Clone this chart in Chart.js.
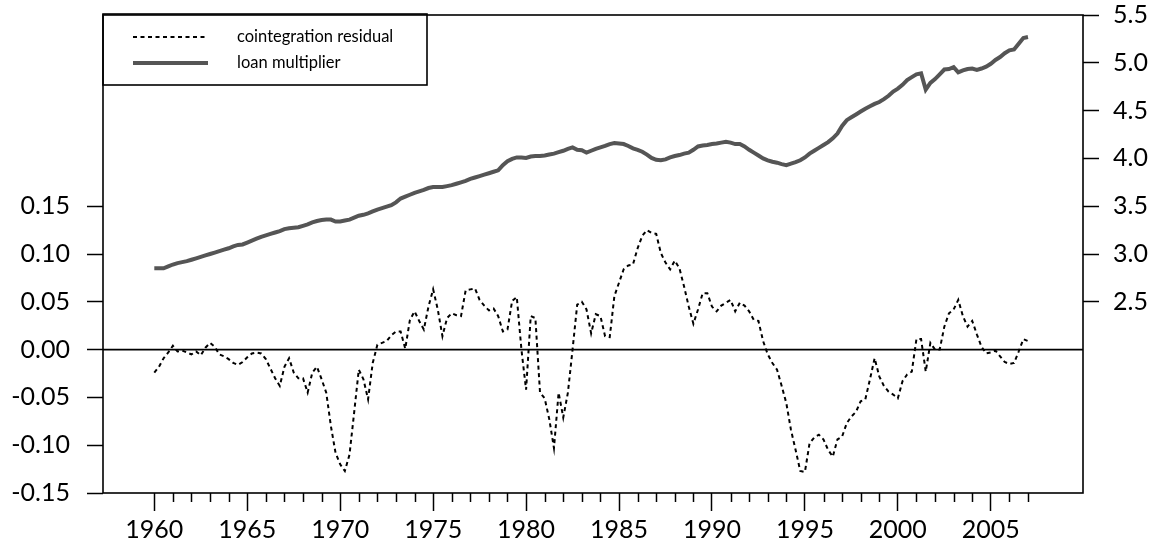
<!DOCTYPE html>
<html>
<head>
<meta charset="utf-8">
<script src="https://cdn.jsdelivr.net/npm/chart.js@4.4.1/dist/chart.umd.min.js"></script>
<style>
  html, body { margin: 0; padding: 0; background: #fff; }
  #wrap { width: 1160px; height: 550px; }
</style>
</head>
<body>
<div id="wrap"><canvas id="myChart" width="1160" height="550"></canvas></div>
<script>
// quarterly data, first quarter = 1960Q1
const startYear = 1960;

const residual = [
  -0.024, -0.018, -0.009, -0.003, 0.004, -0.002, -0.001, -0.003,
  -0.005, -0.002, -0.006, 0.002, 0.007, 0.003, -0.005, -0.007,
  -0.010, -0.014, -0.016, -0.013, -0.008, -0.004, -0.003, -0.004,
  -0.010, -0.020, -0.030, -0.038, -0.018, -0.009, -0.024, -0.030,
  -0.030, -0.045, -0.024, -0.018, -0.031, -0.045, -0.080, -0.108,
  -0.120, -0.127, -0.110, -0.066, -0.021, -0.031, -0.052, -0.014,
  0.005, 0.007, 0.009, 0.015, 0.019, 0.019, 0.001, 0.031,
  0.040, 0.030, 0.021, 0.045, 0.063, 0.042, 0.014, 0.033,
  0.038, 0.036, 0.035, 0.062, 0.063, 0.064, 0.052, 0.046,
  0.041, 0.043, 0.035, 0.019, 0.021, 0.051, 0.055, 0.000,
  -0.042, 0.035, 0.033, -0.045, -0.051, -0.073, -0.103, -0.045,
  -0.071, -0.045, 0.000, 0.047, 0.050, 0.042, 0.017, 0.037,
  0.035, 0.014, 0.013, 0.056, 0.070, 0.084, 0.088, 0.089,
  0.106, 0.119, 0.125, 0.122, 0.121, 0.101, 0.091, 0.084,
  0.093, 0.085, 0.066, 0.045, 0.027, 0.042, 0.059, 0.059,
  0.045, 0.040, 0.046, 0.049, 0.052, 0.040, 0.049, 0.046,
  0.040, 0.031, 0.030, 0.009, -0.005, -0.014, -0.021, -0.038,
  -0.056, -0.084, -0.105, -0.127, -0.128, -0.098, -0.092, -0.089,
  -0.094, -0.105, -0.112, -0.094, -0.091, -0.077, -0.070, -0.065,
  -0.054, -0.052, -0.031, -0.009, -0.028, -0.038, -0.044, -0.047,
  -0.051, -0.033, -0.026, -0.023, 0.011, 0.011, -0.023, 0.007,
  0.000, 0.000, 0.024, 0.038, 0.042, 0.052, 0.035, 0.024,
  0.030, 0.016, 0.003, -0.004, -0.003, -0.001, -0.007, -0.013,
  -0.015, -0.014, -0.002, 0.011, 0.009
];

const loanMult = [
  2.85, 2.85, 2.85, 2.87, 2.89, 2.905, 2.915, 2.925,
  2.94, 2.955, 2.97, 2.985, 3.00, 3.015, 3.03, 3.045,
  3.06, 3.08, 3.095, 3.10, 3.12, 3.14, 3.16, 3.18,
  3.195, 3.21, 3.225, 3.24, 3.26, 3.27, 3.275, 3.28,
  3.295, 3.31, 3.33, 3.345, 3.355, 3.36, 3.36, 3.34,
  3.34, 3.35, 3.36, 3.38, 3.40, 3.41, 3.425, 3.445,
  3.465, 3.48, 3.495, 3.51, 3.54, 3.58, 3.60, 3.62,
  3.64, 3.655, 3.67, 3.69, 3.70, 3.70, 3.70, 3.71,
  3.72, 3.735, 3.75, 3.765, 3.785, 3.80, 3.815, 3.83,
  3.845, 3.86, 3.875, 3.93, 3.97, 3.995, 4.01, 4.01,
  4.005, 4.02, 4.025, 4.025, 4.03, 4.04, 4.05, 4.065,
  4.08, 4.10, 4.115, 4.09, 4.085, 4.06, 4.08, 4.10,
  4.115, 4.13, 4.15, 4.16, 4.155, 4.15, 4.13, 4.105,
  4.09, 4.07, 4.04, 4.005, 3.985, 3.98, 3.99, 4.01,
  4.025, 4.035, 4.05, 4.06, 4.09, 4.125, 4.135, 4.14,
  4.15, 4.155, 4.165, 4.175, 4.165, 4.15, 4.15, 4.125,
  4.09, 4.06, 4.03, 4.00, 3.98, 3.965, 3.955, 3.94,
  3.93, 3.945, 3.96, 3.98, 4.01, 4.05, 4.08, 4.11,
  4.14, 4.17, 4.21, 4.26, 4.34, 4.40, 4.43, 4.46,
  4.49, 4.52, 4.545, 4.57, 4.59, 4.62, 4.655, 4.70,
  4.73, 4.77, 4.82, 4.85, 4.88, 4.89, 4.72, 4.79,
  4.83, 4.88, 4.93, 4.935, 4.955, 4.90, 4.92, 4.935,
  4.94, 4.925, 4.94, 4.96, 4.99, 5.03, 5.06, 5.10,
  5.13, 5.14, 5.20, 5.26, 5.27
];

const seriesNames = ['cointegration residual', 'loan multiplier'];
const leftTicks = [-0.15, -0.10, -0.05, 0.00, 0.05, 0.10, 0.15];
const rightTicks = [2.5, 3.0, 3.5, 4.0, 4.5, 5.0, 5.5];
const yearTicks = [1960, 1965, 1970, 1975, 1980, 1985, 1990, 1995, 2000, 2005];
const minorYears = [];
for (let y = 1961; y <= 2007; y++) if (y % 5 !== 0) minorYears.push(y);

const quarters = residual.map((_, i) => startYear + i / 4);

const FONT = 'Lato, "Open Sans", sans-serif';

// box, zero line, minor year ticks and the legend
const framePlugin = {
  id: 'frame',
  afterDraw(chart) {
    const ctx = chart.ctx;
    const a = chart.chartArea;
    const x = chart.scales.x;
    const yl = chart.scales.y;
    ctx.save();
    ctx.strokeStyle = '#000';
    ctx.lineWidth = 1.6;
    ctx.strokeRect(a.left, a.top, a.right - a.left, a.bottom - a.top);

    // zero line
    const y0 = yl.getPixelForValue(0);
    ctx.beginPath();
    ctx.moveTo(a.left, y0);
    ctx.lineTo(a.right, y0);
    ctx.stroke();

    // minor ticks
    ctx.lineWidth = 1.5;
    minorYears.forEach(yr => {
      const px = Math.round(x.getPixelForValue(yr)) + 0.5;
      ctx.beginPath();
      ctx.moveTo(px, a.bottom);
      ctx.lineTo(px, a.bottom + 9);
      ctx.stroke();
    });

    // legend
    const lx = a.left, ly = a.top - 1;
    ctx.lineWidth = 1.6;
    ctx.strokeRect(lx, ly, 324, 71);
    const ds = chart.data.datasets;
    ds.forEach((d, i) => {
      const yy = ly + 23 + i * 26;
      ctx.beginPath();
      ctx.strokeStyle = d.borderColor;
      ctx.lineWidth = d.borderWidth;
      ctx.setLineDash(d.borderDash || []);
      ctx.moveTo(lx + 30, yy);
      ctx.lineTo(lx + 105, yy);
      ctx.stroke();
      ctx.setLineDash([]);
      ctx.fillStyle = '#000';
      ctx.font = '16.5px ' + FONT;
      ctx.textBaseline = 'middle';
      ctx.fillText(d.label, lx + 134, yy);
    });
    ctx.restore();
  }
};

// keep the plot box at a fixed place: no extra room for overhanging labels
const fixY = w => s => { s.width = w; s.paddingTop = 0; s.paddingBottom = 0; };

new Chart(document.getElementById('myChart'), {
  type: 'line',
  data: {
    datasets: [
      {
        label: seriesNames[0],
        data: quarters.map((t, i) => ({ x: t, y: residual[i] })),
        yAxisID: 'y',
        borderColor: '#000',
        borderWidth: 2,
        borderDash: [4, 3.5],
        pointRadius: 0,
        tension: 0
      },
      {
        label: seriesNames[1],
        data: quarters.map((t, i) => ({ x: t, y: loanMult[i] })),
        yAxisID: 'y2',
        borderColor: '#555555',
        borderWidth: 4,
        pointRadius: 0,
        tension: 0
      }
    ]
  },
  options: {
    responsive: false,
    animation: false,
    layout: { padding: { top: 15, left: 0, right: 0, bottom: 0 } },
    plugins: { legend: { display: false }, tooltip: { enabled: false } },
    scales: {
      x: {
        type: 'linear',
        min: 1957.24,
        max: 2009.96,
        afterBuildTicks: s => { s.ticks = yearTicks.map(v => ({ value: v })); },
        afterFit: s => { s.height = 57; s.paddingLeft = 0; s.paddingRight = 0; },
        ticks: {
          autoSkip: false,
          maxRotation: 0,
          padding: 4,
          color: '#000',
          font: { family: FONT, size: 25 },
          callback: v => String(v)
        },
        grid: { drawOnChartArea: false, tickLength: 18, tickColor: '#000', tickWidth: 1.5 },
        border: { display: false }
      },
      y: {
        position: 'left',
        min: -0.15,
        max: 0.35,
        afterBuildTicks: s => { s.ticks = leftTicks.map(v => ({ value: v })); },
        afterFit: fixY(103),
        ticks: {
          autoSkip: false,
          padding: 17,
          color: '#000',
          font: { family: FONT, size: 25 },
          callback: v => Number(v).toFixed(2)
        },
        grid: { drawOnChartArea: false, tickLength: 16, tickColor: '#000', tickWidth: 1.5 },
        border: { display: false }
      },
      y2: {
        position: 'right',
        min: 0.5,
        max: 5.5,
        afterBuildTicks: s => { s.ticks = rightTicks.map(v => ({ value: v })); },
        afterFit: fixY(77),
        ticks: {
          autoSkip: false,
          padding: 14,
          color: '#000',
          font: { family: FONT, size: 25 },
          callback: v => Number(v).toFixed(1)
        },
        grid: { drawOnChartArea: false, tickLength: 16, tickColor: '#000', tickWidth: 1.5 },
        border: { display: false }
      }
    }
  },
  plugins: [framePlugin]
});
</script>
</body>
</html>
